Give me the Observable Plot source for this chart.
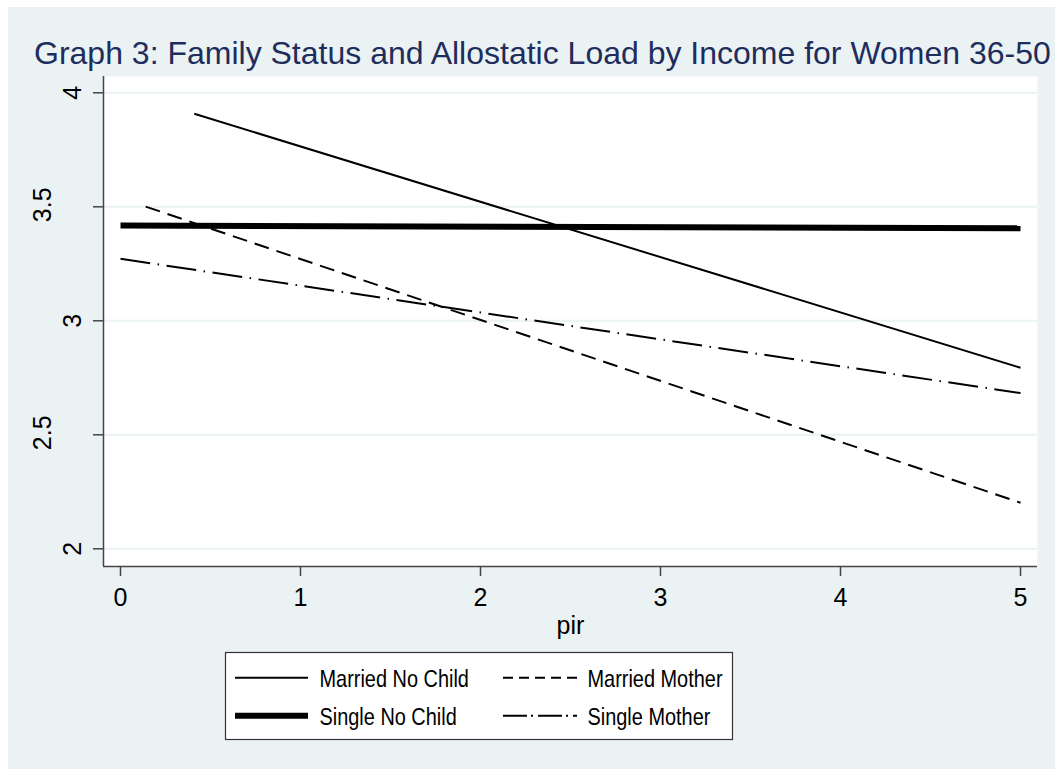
<!DOCTYPE html>
<html>
<head>
<meta charset="utf-8">
<script src="https://cdn.jsdelivr.net/npm/d3@7"></script>
<script src="https://cdn.jsdelivr.net/npm/@observablehq/plot@0.6"></script>
<style>
  html, body { margin: 0; padding: 0; background: #ffffff; }
  #page { position: relative; width: 1055px; height: 769px; overflow: hidden;
          font-family: "Liberation Sans", Arial, sans-serif; }
  #bg { position: absolute; left: 8px; top: 7px; right: 0; bottom: 0; background: #EAF2F3; }
  #title { position: absolute; left: 0; top: 0; }
  #chart { position: absolute; left: 0; top: 76px; }
  #legend { position: absolute; left: 0; top: 640px; }
</style>
</head>
<body>
<div id="page">
  <div id="bg"></div>
  <svg id="title" width="1055" height="76"></svg>
  <div id="chart"></div>
  <div id="legend"></div>
</div>
<script>
// Fitted allostatic load by poverty-income ratio (pir), one straight line per family status
const series   = ["Married No Child", "Married Mother", "Single No Child", "Single Mother"];
const pirFrom  = [0.41, 0.14, 0, 0];
const pirTo    = [5, 5, 5, 5];
const loadFrom = [3.908, 3.501, 3.418, 3.272];
const loadTo   = [2.794, 2.202, 3.406, 2.683];

const xTicks = [0, 1, 2, 3, 4, 5];
const xTickLabels = ["0", "1", "2", "3", "4", "5"];
const yTicks = [2, 2.5, 3, 3.5, 4];
const yTickLabels = ["2", "2.5", "3", "3.5", "4"];

const titleText = "Graph 3: Family Status and Allostatic Load by Income for Women 36-50";
const xLabel = "pir";

// Line styles for each family status (plot and legend key)
const lineStyle = {
  "Married No Child": {width: 2, dash: null, key: null},
  "Married Mother":   {width: 2, dash: "15,8", key: "10,6"},
  "Single No Child":  {width: 6, dash: null, key: null},
  "Single Mother":    {width: 2, dash: "30,7.5,1.5,7.5", key: "24,4,2,5"}
};

const FONT = "Liberation Sans, Arial, sans-serif";
const AXIS = "#444444";
const xDomain = [-0.0944, 5.0944];
const yDomain = [1.9224, 4.0715];

// Title
d3.select("#title").append("text")
  .attr("x", 34).attr("y", 64)
  .attr("font-family", FONT).attr("font-size", 32)
  .attr("fill", "#1e2d5b")
  .text(titleText);

// Long table built from the arrays above
const rows = series.flatMap((s, i) => [
  {series: s, pir: pirFrom[i], load: loadFrom[i]},
  {series: s, pir: pirTo[i], load: loadTo[i]}
]);

const yLabelRows = yTicks.map((v, i) => ({v, label: yTickLabels[i]}));
const shortLabels = yLabelRows.filter(d => d.label.length === 1);
const longLabels = yLabelRows.filter(d => d.label.length > 1);

const chart = Plot.plot({
  width: 1055,
  height: 570,
  marginLeft: 103,
  marginRight: 18,
  marginTop: 0,
  marginBottom: 80,
  style: {background: "transparent", color: "black", fontFamily: FONT, overflow: "visible"},
  x: {domain: xDomain, label: null},
  y: {domain: yDomain, label: null},
  marks: [
    Plot.frame({fill: "white", stroke: null}),
    Plot.gridY(yTicks, {stroke: "#EAF2F3", strokeOpacity: 1, strokeWidth: 2}),
    ...series.map(s => Plot.line(rows.filter(r => r.series === s), {
      x: "pir", y: "load",
      stroke: "black",
      strokeWidth: lineStyle[s].width,
      strokeDasharray: lineStyle[s].dash,
      strokeLinecap: "butt"
    })),
    Plot.ruleX([xDomain[0]], {stroke: AXIS, strokeWidth: 1.5}),
    Plot.ruleY([yDomain[0]], {stroke: AXIS, strokeWidth: 1.5}),
    Plot.axisX(xTicks, {anchor: "bottom", tickSize: 10, tickPadding: 12, fontSize: 25,
                        tickFormat: d => xTickLabels[xTicks.indexOf(d)],
                        stroke: AXIS, strokeWidth: 1.5, label: null}),
    Plot.axisY(yTicks, {anchor: "left", tickSize: 10, tickFormat: () => "",
                        stroke: AXIS, strokeWidth: 1.5, label: null}),
    Plot.text(shortLabels, {frameAnchor: "left", y: "v", text: "label", rotate: -90,
                            textAnchor: "middle", lineAnchor: "middle", dx: -31, fontSize: 25}),
    Plot.text(longLabels, {frameAnchor: "left", y: "v", text: "label", rotate: -90,
                           textAnchor: "middle", lineAnchor: "middle", dx: -60.5, dy: -2, fontSize: 25}),
    Plot.text([xLabel], {frameAnchor: "bottom", text: d => d, lineAnchor: "bottom",
                         dy: 67, fontSize: 25})
  ]
});
document.getElementById("chart").appendChild(chart);

// Legend: two columns, two rows
const legend = d3.select("#legend").append("svg")
  .attr("width", 1055).attr("height", 129);
legend.append("rect")
  .attr("x", 225.5).attr("y", 12.5).attr("width", 507).attr("height", 87)
  .attr("fill", "white").attr("stroke", "#333").attr("stroke-width", 1.2);

const keyCols = [{x1: 235, x2: 308, tx: 319.5}, {x1: 503, x2: 577, tx: 587.5}];
const keyRows = [{ly: 37.7, ty: 46.7}, {ly: 75.7, ty: 85}];
series.forEach((s, i) => {
  const c = keyCols[i % 2], r = keyRows[Math.floor(i / 2)];
  const st = lineStyle[s];
  legend.append("line")
    .attr("x1", c.x1).attr("x2", c.x2).attr("y1", r.ly).attr("y2", r.ly)
    .attr("stroke", "black").attr("stroke-width", st.width)
    .attr("stroke-dasharray", st.key);
  legend.append("text")
    .attr("transform", `translate(${c.tx},${r.ty}) scale(0.83,1)`)
    .attr("font-family", FONT).attr("font-size", 24).attr("fill", "black")
    .text(s);
});
</script>
</body>
</html>
